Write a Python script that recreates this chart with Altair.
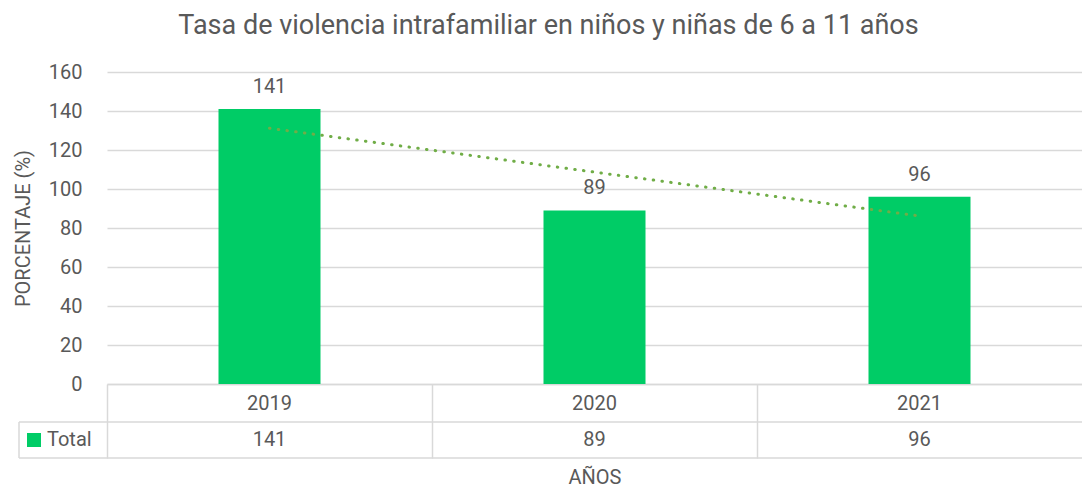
import altair as alt
import pandas as pd

years = ["2019", "2020", "2021"]
year_num = [2019, 2020, 2021]
values = [141, 89, 96]
y_ticks = [0, 20, 40, 60, 80, 100, 120, 140, 160]
series_name = "Total"

title_text = "Tasa de violencia intrafamiliar en niños y niñas de 6 a 11 años"
y_title = "PORCENTAJE (%)"
x_title = "AÑOS"

df = pd.DataFrame({"year": years, "yr": year_num, "value": values})
one = pd.DataFrame({"k": [0]})

FONT = "Roboto"
TXT = "#595959"
GRID = "#d9d9d9"
BAR = "#00CC66"
TREND = "#70AD47"
FS = 20

W, H = 975, 312
ROW1 = 38   # height of year row
ROW2 = 36   # height of total row
LEFTBOX = -88

xenc = alt.X(
    "year:N",
    sort=years,
    scale=alt.Scale(paddingInner=0, paddingOuter=0),
    axis=alt.Axis(
        title=x_title,
        labels=False,
        ticks=True,
        tickSize=ROW1 + ROW2,
        tickColor=GRID,
        tickWidth=1.5,
        bandPosition=0,
        domainColor=GRID,
        domainWidth=1.5,
        titleFont=FONT,
        titleFontSize=FS,
        titleFontWeight="normal",
        titleColor=TXT,
        titlePadding=9,
    ),
)

yenc = alt.Y(
    "value:Q",
    scale=alt.Scale(domain=[0, 160], nice=False),
    axis=alt.Axis(
        title=y_title,
        values=y_ticks,
        labelOverlap=False,
        grid=True,
        gridColor=GRID,
        gridWidth=1.5,
        domain=False,
        ticks=False,
        labelFont=FONT,
        labelFontSize=FS,
        labelColor=TXT,
        labelPadding=25,
        titleFont=FONT,
        titleFontSize=FS,
        titleFontWeight="normal",
        titleColor=TXT,
        titlePadding=15,
    ),
)

base = alt.Chart(df)

bars = base.mark_bar(size=102, color=BAR).encode(x=xenc, y=yenc)

labels = base.mark_text(dy=-16, baseline="alphabetic", font=FONT, fontSize=FS, color=TXT).encode(
    x=xenc, y=yenc, text="value:Q"
)

trend = (
    base.transform_regression("yr", "value")
    .transform_calculate(year="toString(datum.yr)")
    .mark_line(color=TREND, strokeWidth=3, strokeDash=[0.5, 8.3], strokeCap="round")
    .encode(x=xenc, y=yenc)
)

year_row = base.mark_text(font=FONT, fontSize=FS, color=TXT, baseline="middle").encode(
    x=xenc, y=alt.value(H + ROW1 / 2 + 1), text="year:N"
)

total_row = base.mark_text(font=FONT, fontSize=FS, color=TXT, baseline="middle").encode(
    x=xenc, y=alt.value(H + ROW1 + ROW2 / 2), text="value:Q"
)

hlines = alt.Chart(pd.DataFrame({"yy": [H + ROW1, H + ROW1 + ROW2]})).mark_rule(
    color=GRID, strokeWidth=1.5
).encode(x=alt.value(LEFTBOX), x2=alt.value(W), y=alt.Y("yy:Q", scale=None))

vline = alt.Chart(one).mark_rule(color=GRID, strokeWidth=1.5).encode(
    x=alt.value(LEFTBOX), y=alt.value(H + ROW1), y2=alt.value(H + ROW1 + ROW2)
)

legend_sq = alt.Chart(one).mark_square(size=196, color=BAR, opacity=1).encode(
    x=alt.value(LEFTBOX + 15), y=alt.value(H + ROW1 + ROW2 / 2)
)
legend_txt = alt.Chart(one).mark_text(
    text=series_name, font=FONT, fontSize=FS, color=TXT, align="left", baseline="middle"
).encode(x=alt.value(LEFTBOX + 28), y=alt.value(H + ROW1 + ROW2 / 2))

chart = (
    alt.layer(bars, trend, labels, year_row, total_row, hlines, vline, legend_sq, legend_txt)
    .properties(
        width=W,
        height=H,
        autosize=alt.AutoSizeParams(type="none"),
        padding={"left": 99, "top": 64, "right": 0, "bottom": 108},
        title=alt.TitleParams(
            text=title_text,
            font=FONT,
            fontSize=27,
            fontWeight="normal",
            color=TXT,
            anchor="middle",
            dx=-46,
            offset=22,
        ),
    )
    .configure_view(stroke=None)
)

chart.save("out.html", embed_options={"renderer": "svg", "actions": False})
